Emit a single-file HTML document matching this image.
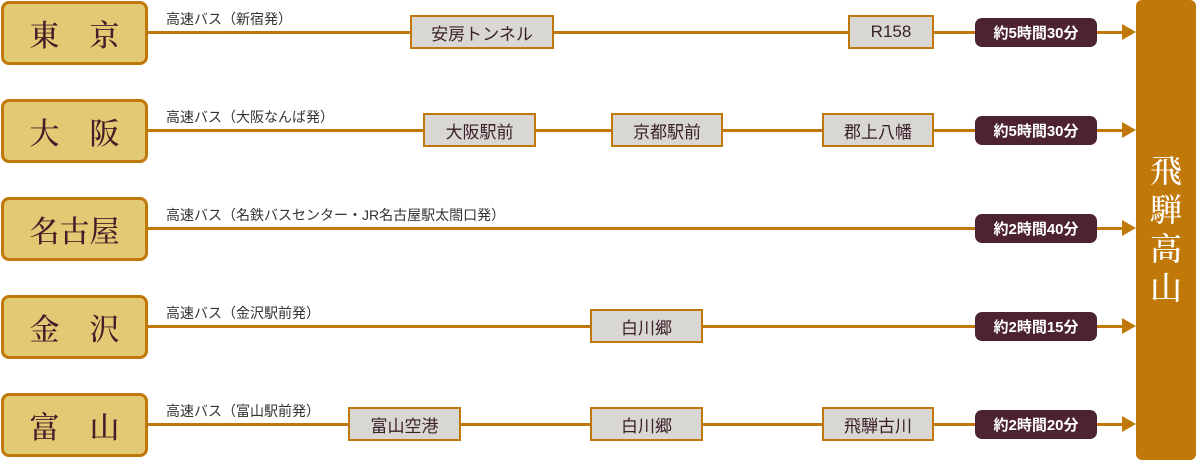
<!DOCTYPE html>
<html><head><meta charset="utf-8"><style>
body{margin:0;width:1200px;height:460px;background:#fff;position:relative;overflow:hidden;font-family:"Liberation Sans","Noto Sans CJK JP",sans-serif}
.c{position:absolute;left:1px;width:141px;height:58px;background:#e2c974;border:3px solid #c07808;border-radius:8px;font-family:"Liberation Serif","Noto Serif CJK SC",serif;font-size:30px;font-weight:500;color:#4a1a28;display:flex;align-items:center;justify-content:center}
.l{position:absolute;left:146px;width:980px;height:3px;background:#c07808}
.a{position:absolute;left:1122px;width:0;height:0;border-left:14px solid #c07808;border-top:8px solid transparent;border-bottom:8px solid transparent}
.t{position:absolute;left:166px;font-size:14px;color:#333}
.s{position:absolute;background:#d9d7d4;border:2px solid #c07808;box-sizing:border-box;height:34px;font-size:17px;color:#3a2028;display:flex;align-items:center;justify-content:center}
.p{position:absolute;left:975px;width:122px;height:29px;background:#4e2331;border-radius:7px;color:#fff;font-weight:bold;font-size:15px;display:flex;align-items:center;justify-content:center}
.r{position:absolute;left:1136px;top:0;width:60px;height:460px;background:#c07808;border-radius:6px;color:#fff;font-family:"Liberation Serif","Noto Serif CJK SC",serif;font-size:32px;font-weight:500;display:flex;flex-direction:column;align-items:center;justify-content:center;line-height:39px}
</style></head><body>
<div class="r"><span>飛</span><span>騨</span><span>高</span><span>山</span></div>

<div class="l" style="top:31px"></div><div class="a" style="top:24px"></div>
<div class="c" style="top:1px">東　京</div>
<div class="t" style="top:9px">高速バス（新宿発）</div>
<div class="s" style="left:410px;top:15px;width:144px">安房トンネル</div>
<div class="s" style="left:848px;top:15px;width:86px">R158</div>
<div class="p" style="top:18px">約5時間30分</div>

<div class="l" style="top:129px"></div><div class="a" style="top:122px"></div>
<div class="c" style="top:99px">大　阪</div>
<div class="t" style="top:107px">高速バス（大阪なんば発）</div>
<div class="s" style="left:423px;top:113px;width:113px">大阪駅前</div>
<div class="s" style="left:611px;top:113px;width:112px">京都駅前</div>
<div class="s" style="left:822px;top:113px;width:112px">郡上八幡</div>
<div class="p" style="top:116px">約5時間30分</div>

<div class="l" style="top:227px"></div><div class="a" style="top:220px"></div>
<div class="c" style="top:197px">名古屋</div>
<div class="t" style="top:205px">高速バス（名鉄バスセンター・JR名古屋駅太閤口発）</div>
<div class="p" style="top:214px">約2時間40分</div>

<div class="l" style="top:325px"></div><div class="a" style="top:318px"></div>
<div class="c" style="top:295px">金　沢</div>
<div class="t" style="top:303px">高速バス（金沢駅前発）</div>
<div class="s" style="left:590px;top:309px;width:113px">白川郷</div>
<div class="p" style="top:312px">約2時間15分</div>

<div class="l" style="top:423px"></div><div class="a" style="top:416px"></div>
<div class="c" style="top:393px">富　山</div>
<div class="t" style="top:401px">高速バス（富山駅前発）</div>
<div class="s" style="left:348px;top:407px;width:113px">富山空港</div>
<div class="s" style="left:590px;top:407px;width:113px">白川郷</div>
<div class="s" style="left:822px;top:407px;width:112px">飛騨古川</div>
<div class="p" style="top:410px">約2時間20分</div>
</body></html>
